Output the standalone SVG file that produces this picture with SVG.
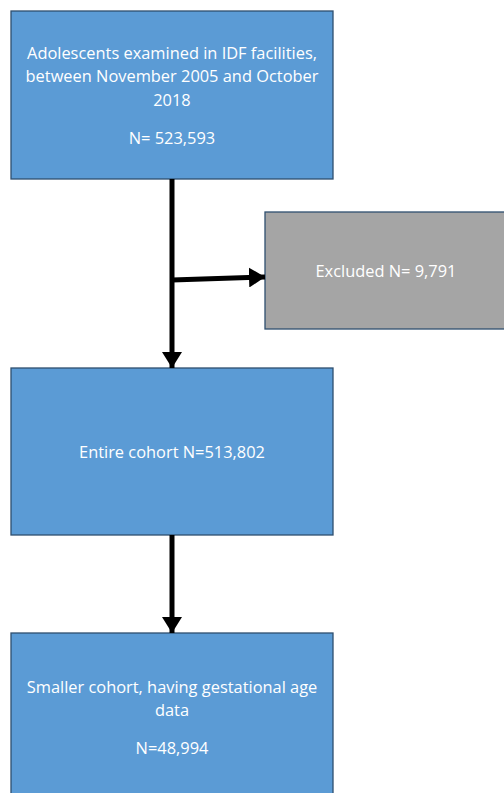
<svg xmlns="http://www.w3.org/2000/svg" width="504" height="793" viewBox="0 0 504 793">
<style>
.box{stroke:#2F4F6F;stroke-width:1.3}
.blue{fill:#5B9BD5}
.gray{fill:#A5A5A5}
text{font-family:"Open Sans","Liberation Sans",sans-serif;font-size:16.4px;fill:#FFFFFF;text-anchor:middle}
.conn{stroke:#000;stroke-width:5;fill:none}
</style>
<defs>
<marker id="ah" markerWidth="4" markerHeight="4" refX="3.2" refY="2" orient="auto" markerUnits="strokeWidth">
<path d="M0,0 L3.2,2 L0,4 Z" fill="#000"/>
</marker>
</defs>
<rect width="504" height="793" fill="#FFFFFF"/>
<g id="node-adolescents">
<rect class="box blue" x="11" y="11" width="322" height="168"/>
<text x="172" y="59">Adolescents examined in IDF facilities,</text>
<text x="172" y="82">between November 2005 and October</text>
<text x="172" y="106">2018</text>
<text x="172" y="144">N= 523,593</text>
</g>
<g id="node-excluded">
<rect class="box gray" x="265" y="212" width="245" height="117"/>
<text x="386" y="277">Excluded N= 9,791</text>
</g>
<g id="node-entire">
<rect class="box blue" x="11" y="368" width="322" height="167"/>
<text x="172" y="458">Entire cohort N=513,802</text>
</g>
<g id="node-smaller">
<rect class="box blue" x="11" y="633" width="322" height="170"/>
<text x="172" y="693">Smaller cohort, having gestational age</text>
<text x="172" y="716">data</text>
<text x="172" y="754">N=48,994</text>
</g>
<g id="connectors">
<line class="conn" x1="172" y1="179" x2="172" y2="368" marker-end="url(#ah)"/>
<line class="conn" x1="172" y1="280" x2="265" y2="277" marker-end="url(#ah)"/>
<line class="conn" x1="172" y1="535" x2="172" y2="633" marker-end="url(#ah)"/>
</g>
</svg>
